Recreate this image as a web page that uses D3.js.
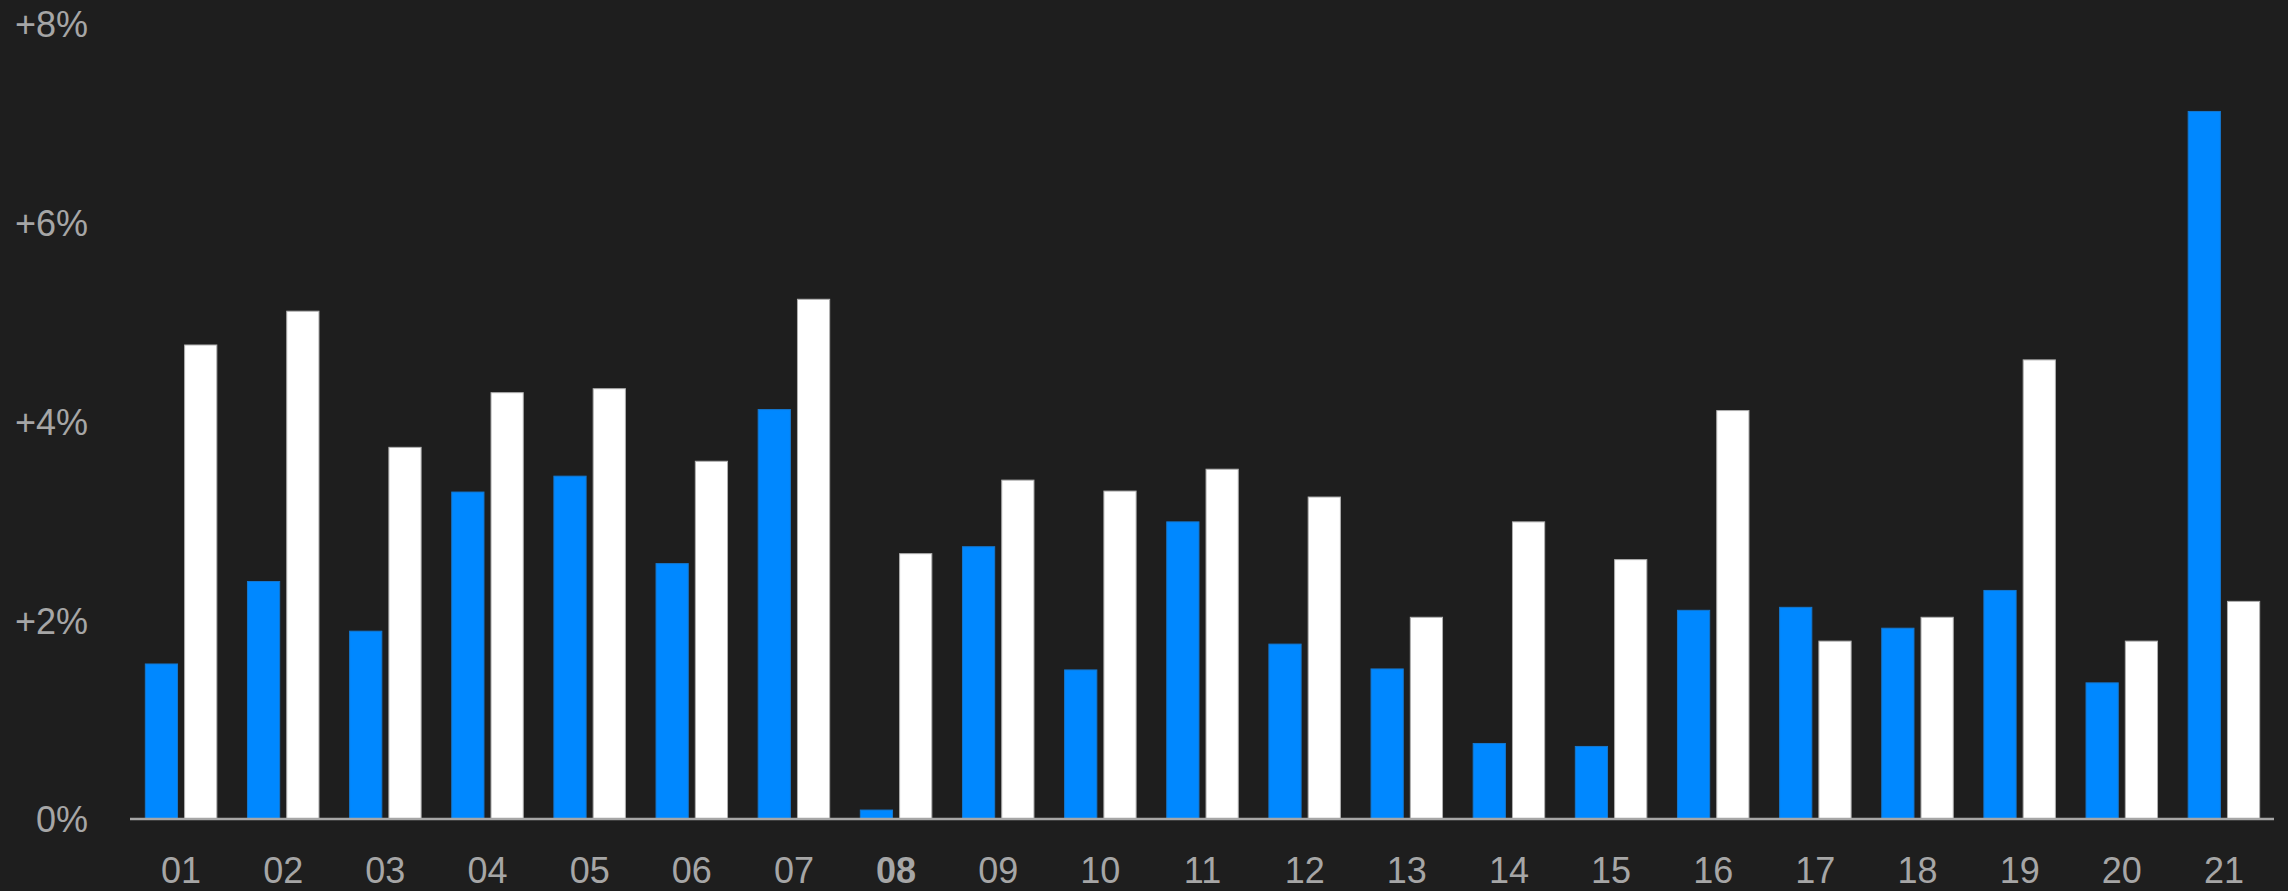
<!DOCTYPE html>
<html>
<head>
<meta charset="utf-8">
<script src="https://cdn.jsdelivr.net/npm/d3@7"></script>
<style>
  html, body { margin: 0; padding: 0; background: #1e1e1e; }
  svg { display: block; }
  text { font-family: "Liberation Sans", "Open Sans", sans-serif; }
</style>
</head>
<body>
<svg id="chart" width="2288" height="891"></svg>
<script>
const categories = ["01","02","03","04","05","06","07","08","09","10","11","12","13","14","15","16","17","18","19","20","21"];
const seriesBlue  = [1.56, 2.39, 1.89, 3.29, 3.45, 2.57, 4.12, 0.09, 2.74, 1.50, 2.99, 1.76, 1.51, 0.76, 0.73, 2.10, 2.13, 1.92, 2.30, 1.37, 7.12];
const seriesWhite = [4.77, 5.11, 3.74, 4.29, 4.33, 3.60, 5.23, 2.67, 3.41, 3.30, 3.52, 3.24, 2.03, 2.99, 2.61, 4.11, 1.79, 2.03, 4.62, 1.79, 2.19];
const yTicks = [0, 2, 4, 6, 8];
const yTickLabels = ["0%", "+2%", "+4%", "+6%", "+8%"];
const boldCategory = "08";

const svg = d3.select("#chart");
const W = 2288, H = 891;
const margin = { left: 130, right: 13, top: 24, bottom: 72 };

svg.append("rect").attr("width", W).attr("height", H).attr("fill", "#1e1e1e");

const x = d3.scaleBand()
  .domain(categories)
  .range([margin.left, W - margin.right])
  .paddingInner(0.3)
  .paddingOuter(0.15);

const sub = d3.scaleBand()
  .domain(["blue", "white"])
  .range([0, x.bandwidth()])
  .paddingInner(0.18)
  .paddingOuter(0);

const y = d3.scaleLinear().domain([0, 8]).range([H - margin.bottom, margin.top]);

const data = categories.map((c, i) => ({ c, blue: seriesBlue[i], white: seriesWhite[i] }));

const g = svg.append("g");
const groups = g.selectAll("g.grp").data(data).join("g")
  .attr("class", "grp")
  .attr("transform", d => `translate(${x(d.c)},0)`);

groups.append("rect")
  .attr("x", sub("blue"))
  .attr("width", sub.bandwidth())
  .attr("y", d => y(d.blue))
  .attr("height", d => y(0) - y(d.blue))
  .attr("fill", "#0088ff")
  .attr("stroke", "#1478d0")
  .attr("stroke-width", 1);

groups.append("rect")
  .attr("x", sub("white"))
  .attr("width", sub.bandwidth())
  .attr("y", d => y(d.white))
  .attr("height", d => y(0) - y(d.white))
  .attr("fill", "#ffffff")
  .attr("stroke", "#b0b0b0")
  .attr("stroke-width", 1);

// Y axis labels
const yAxis = d3.axisLeft(y).tickValues(yTicks)
  .tickFormat((d, i) => yTickLabels[i]).tickSize(0).tickPadding(0);
const yg = svg.append("g").attr("transform", "translate(88,0)").call(yAxis);
yg.select(".domain").remove();
yg.selectAll("text")
  .attr("fill", "#a6a6a6")
  .attr("dy", "0.36em")
  .style("font-size", "36px")
  .style("font-family", "'Liberation Sans', sans-serif");

// X axis
const xAxis = d3.axisBottom(x).tickSize(0).tickPadding(0);
const xg = svg.append("g").attr("transform", `translate(0,${y(0)})`).call(xAxis);
xg.select(".domain").attr("stroke", "#a6a6a6").attr("stroke-width", 2.5)
  .attr("d", `M${margin.left},0H${W - margin.right - 1}`);
xg.selectAll("text")
  .attr("fill", "#a6a6a6")
  .attr("dy", "0")
  .attr("y", 64)
  .style("font-size", "36px")
  .style("font-weight", d => d === boldCategory ? "bold" : "normal")
  .style("font-family", "'Liberation Sans', sans-serif");
</script>
</body>
</html>
